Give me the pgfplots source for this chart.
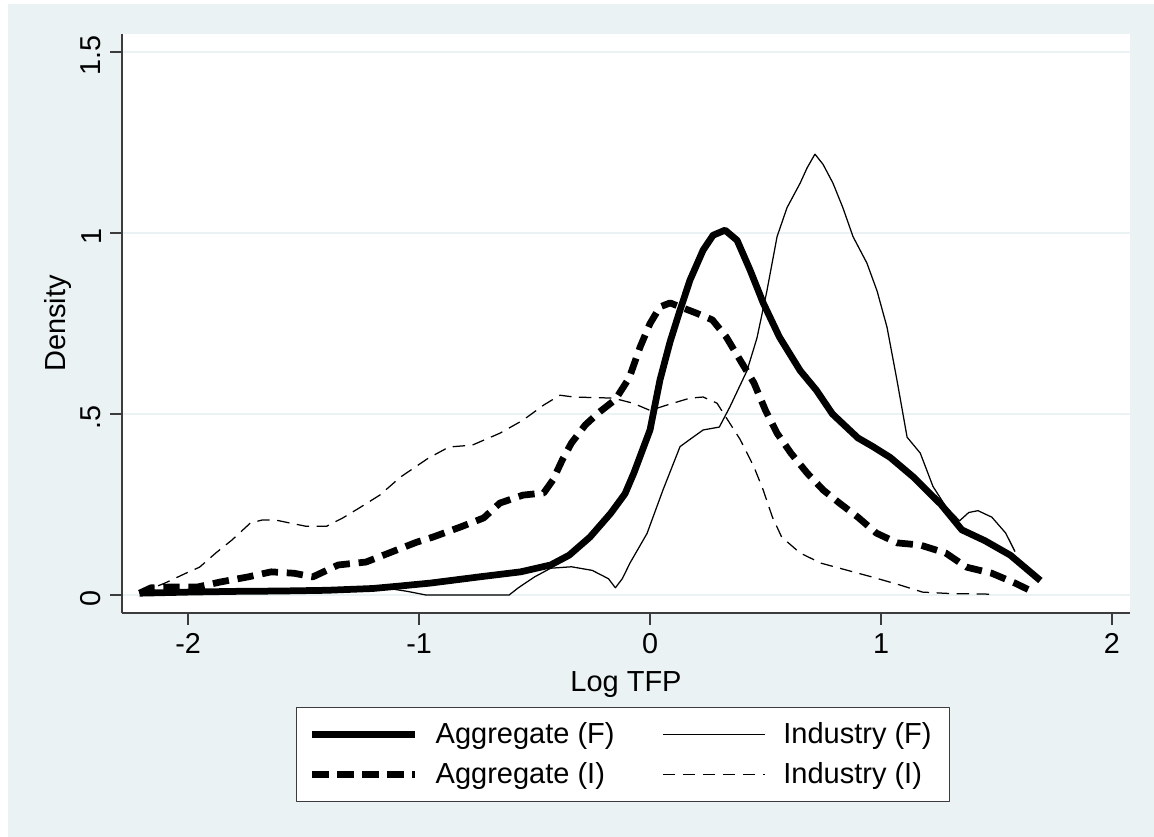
\documentclass[border=0pt]{standalone}
\usepackage{pgfplots}
\pgfplotsset{compat=1.18}
\usepackage{fontspec}
\setmainfont{Liberation Sans}
\definecolor{bgc}{RGB}{234,242,243}
\definecolor{axc}{RGB}{60,60,60}
\begin{document}
\begin{tikzpicture}
\fill[white] (0,0) rectangle (461.6pt,334.8pt);
\fill[bgc] (3.2pt,0) rectangle (461.6pt,333.2pt);
\begin{axis}[
  at={(48.8pt,89.6pt)}, anchor=south west,
  scale only axis, width=403.2pt, height=231.6pt,
  xmin=-2.286, xmax=2.078, ymin=-0.0497, ymax=1.55,
  axis x line*=bottom, axis y line*=left,
  axis line style={axc, line width=0.5pt},
  axis background/.style={fill=white},
  xtick={-2,-1,0,1,2}, xticklabels={-2,-1,0,1,2},
  ytick={0,0.5,1,1.5}, yticklabels={0,.5,1,1.5},
  tick align=outside, major tick length=4.8pt,
  tick style={axc, line width=0.5pt},
  yticklabel style={rotate=90, anchor=south, xshift=-1.5pt},
  ymajorgrids, major grid style={draw=bgc, line width=0.7pt},
  every tick label/.append style={font=\fontsize{11.5}{13}\selectfont, text=black},
  label style={font=\fontsize{11.6}{13}\selectfont},
  xlabel={Log TFP}, ylabel={Density},
  ylabel style={yshift=-3pt},
  legend columns=2,
  legend cell align=left,
  legend style={at={(0.1726,-0.1623)}, anchor=north west, draw=axc, fill=white,
    font=\fontsize{11.6}{13}\selectfont, inner xsep=5pt, inner ysep=4pt,
    row sep=2pt,
    /tikz/every odd column/.append style={column sep=5pt},
    /tikz/every even column/.append style={column sep=17pt}},
  legend image code/.code={\draw[#1] (0pt,0pt) -- (41pt,0pt);},
  line join=round,
]
% Aggregate (F)
\addplot[black, line width=2.7pt] coordinates {
(-2.21,0.005) (-2.0,0.008) (-1.8,0.01) (-1.6,0.011) (-1.4,0.013) (-1.2,0.018)
(-1.08,0.025) (-0.95,0.033) (-0.74,0.05) (-0.56,0.064) (-0.43,0.083) (-0.35,0.11)
(-0.26,0.16) (-0.17,0.226) (-0.108,0.28) (-0.07,0.337) (0.0,0.456) (0.043,0.594)
(0.087,0.70) (0.13,0.787) (0.173,0.87) (0.23,0.953) (0.273,0.994) (0.325,1.008)
(0.377,0.98) (0.433,0.898) (0.49,0.807) (0.56,0.713) (0.65,0.62) (0.72,0.566)
(0.79,0.50) (0.9,0.434) (0.965,0.41) (1.04,0.38) (1.14,0.326) (1.26,0.25)
(1.35,0.18) (1.45,0.15) (1.56,0.11) (1.69,0.04)
};
\addlegendentry{Aggregate (F)}
% Industry (F)
\addplot[black, line width=0.5pt] coordinates {
(-2.21,0.005) (-1.8,0.01) (-1.4,0.015) (-1.15,0.02) (-1.05,0.01) (-0.97,0.0)
(-0.61,0.0) (-0.57,0.02) (-0.5,0.05) (-0.43,0.074) (-0.34,0.078) (-0.25,0.068)
(-0.18,0.045) (-0.15,0.02) (-0.12,0.045) (-0.087,0.088) (-0.013,0.17) (0.056,0.29)
(0.13,0.41) (0.173,0.43) (0.23,0.456) (0.30,0.464) (0.346,0.52) (0.42,0.62)
(0.463,0.71) (0.506,0.84) (0.55,0.99) (0.593,1.07) (0.65,1.138) (0.68,1.18)
(0.714,1.218) (0.749,1.19) (0.792,1.138) (0.835,1.07) (0.879,0.99) (0.939,0.917)
(0.983,0.84) (1.026,0.74) (1.069,0.594) (1.113,0.436) (1.17,0.392) (1.225,0.30)
(1.28,0.245) (1.34,0.205) (1.38,0.228) (1.42,0.233) (1.48,0.215) (1.54,0.171)
(1.58,0.12)
};
\addlegendentry{Industry (F)}
% Aggregate (I)
\addplot[black, line width=2.7pt, dash pattern=on 6.5pt off 3.5pt] coordinates {
(-2.21,0.005) (-2.16,0.02) (-2.08,0.022) (-1.96,0.022) (-1.86,0.036) (-1.74,0.05)
(-1.64,0.064) (-1.54,0.06) (-1.46,0.05) (-1.35,0.083) (-1.23,0.091) (-1.13,0.116)
(-1.01,0.146) (-0.94,0.16) (-0.82,0.188) (-0.72,0.213) (-0.65,0.254) (-0.55,0.276)
(-0.46,0.282) (-0.42,0.318) (-0.38,0.373) (-0.34,0.42) (-0.28,0.47) (-0.22,0.505)
(-0.15,0.54) (-0.09,0.60) (-0.043,0.685) (0.0,0.75) (0.043,0.796) (0.087,0.807)
(0.143,0.793) (0.2,0.779) (0.27,0.76) (0.33,0.713) (0.39,0.649) (0.45,0.586)
(0.5,0.51) (0.55,0.447) (0.61,0.392) (0.68,0.337) (0.75,0.29) (0.82,0.254)
(0.9,0.215) (0.98,0.171) (1.07,0.144) (1.17,0.138) (1.28,0.116) (1.37,0.077)
(1.48,0.06) (1.58,0.033) (1.66,0.008)
};
\addlegendentry{Aggregate (I)}
% Industry (I)
\addplot[black, line width=0.5pt, dash pattern=on 5pt off 3pt] coordinates {
(-2.21,0.005) (-2.1,0.033) (-2.01,0.06) (-1.95,0.077) (-1.88,0.116) (-1.81,0.152)
(-1.73,0.199) (-1.68,0.207) (-1.62,0.207) (-1.56,0.199) (-1.49,0.19) (-1.40,0.19)
(-1.33,0.213) (-1.26,0.24) (-1.17,0.276) (-1.08,0.326) (-0.96,0.378) (-0.87,0.409)
(-0.77,0.414) (-0.65,0.447) (-0.55,0.483) (-0.46,0.525) (-0.39,0.552) (-0.33,0.547)
(-0.16,0.544) (-0.074,0.53) (0.0,0.51) (0.074,0.525) (0.173,0.544) (0.23,0.547)
(0.29,0.53) (0.33,0.49) (0.39,0.43) (0.45,0.354) (0.49,0.29) (0.53,0.215)
(0.57,0.16) (0.65,0.116) (0.74,0.088) (0.85,0.069) (0.96,0.05) (1.08,0.028)
(1.18,0.008) (1.3,0.004) (1.5,0.002)
};
\addlegendentry{Industry (I)}
\end{axis}
\end{tikzpicture}
\end{document}
